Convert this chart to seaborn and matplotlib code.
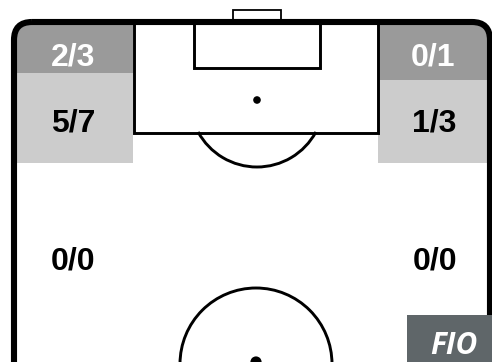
import matplotlib
matplotlib.use("Agg")
import matplotlib.pyplot as plt
import seaborn as sns
import pandas as pd
from matplotlib.patches import FancyBboxPatch, Rectangle, Arc

# ---- data ----
zone_labels = ["2/3", "5/7", "0/1", "1/3", "0/0", "0/0"]
zone_text_colors = ["white", "black", "white", "black", "black", "black"]
team_tag = "FIO"

sns.set_theme(style="white")
plt.rcParams['font.family'] = ['Liberation Sans', 'DejaVu Sans']

W, H = 492, 362
fig = plt.figure(figsize=(W / 100, H / 100), dpi=100)
ax = fig.add_axes([0, 0, 1, 1])
ax.set_xlim(0, W)
ax.set_ylim(H, 0)
ax.axis("off")

# pitch outline
border = FancyBboxPatch((14, 22), 476, 420, boxstyle="round,pad=0,rounding_size=18",
                        fill=False, edgecolor="black", linewidth=4.4, zorder=5)
ax.add_patch(border)
clip = FancyBboxPatch((14, 22), 476, 420, boxstyle="round,pad=0,rounding_size=18",
                      fill=False, edgecolor="none", transform=ax.transData)
ax.add_patch(clip)

# zones (position, size, fill)
zones = [
    (14, 22, 119, 51, "#9a9a9a"),
    (14, 73, 119, 90, "#cccccc"),
    (378, 22, 114, 58, "#9a9a9a"),
    (378, 80, 114, 83, "#cccccc"),
]
for x, y, w, h, c in zones:
    r = Rectangle((x, y), w, h, facecolor=c, edgecolor="none", zorder=1)
    ax.add_patch(r)
    r.set_clip_path(clip)

lw = 2.1
# penalty box
ax.add_patch(Rectangle((134, 22), 243.5, 110.5, fill=False, edgecolor="black", linewidth=lw, zorder=3))
# goal area
ax.add_patch(Rectangle((194, 22), 126, 46, fill=False, edgecolor="black", linewidth=lw, zorder=3))
# goal
ax.add_patch(Rectangle((233, 10), 48, 10, fill=False, edgecolor="black", linewidth=1.3, zorder=3))
# penalty arc
ax.add_patch(Arc((257, 100), 134, 134, theta1=28.5, theta2=151.5, edgecolor="black", linewidth=lw, zorder=3))
# centre circle
ax.add_patch(Arc((256, 364), 152, 152, theta1=180, theta2=360, edgecolor="black", linewidth=lw, zorder=3))

spots = pd.DataFrame({"x": [257, 256], "y": [100, 362], "s": [30, 65]})
sns.scatterplot(data=spots, x="x", y="y", size="s", sizes=(30, 65), color="black",
                edgecolor="none", legend=False, ax=ax, zorder=4)

# zone labels
label_pos = [(73, 57.5), (73, 124), (433, 57.5), (434, 124), (73, 261.5), (435, 261.5)]
for (x, y), t, c in zip(label_pos, zone_labels, zone_text_colors):
    ax.text(x, y, t, ha="center", va="center", color=c, fontsize=23,
            fontweight="bold", zorder=6)

# team tag box
ax.add_patch(Rectangle((407, 315), 90, 50, facecolor="#5f6669", edgecolor="none", zorder=6))
ax.text(454, 346, team_tag, ha="center", va="center", color="white", fontsize=21.5,
        fontweight="bold", fontstyle="italic", family=["Open Sans", "DejaVu Sans"], zorder=7)

ax.set_xlabel("")
ax.set_ylabel("")
fig.savefig("out.png", dpi=100)
